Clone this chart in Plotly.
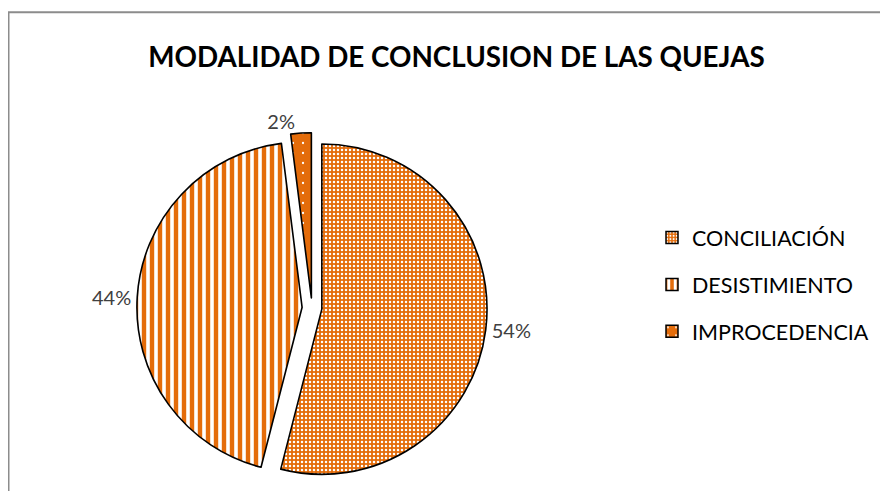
import plotly.graph_objects as go

labels = ["CONCILIACIÓN", "DESISTIMIENTO", "IMPROCEDENCIA"]
values = [54, 44, 2]
title_text = "MODALIDAD DE CONCLUSION DE LAS QUEJAS"

ORANGE = "#E46C0A"
W, H = 888, 491

shapes_pat = [".", "|", "."]
sizes_pat = [4, 8, 10]
solid_pat = [0.3, 0.45, 0.04]

HALF = 181  # half size of the pie domain (px)
CX = 304    # pie domain centre x (px)

fig = go.Figure()
fig.add_trace(go.Pie(
    labels=labels,
    values=values,
    sort=False,
    direction="clockwise",
    rotation=0,
    pull=[0.06, 0.06, 0.06],
    textinfo="percent",
    textposition="outside",
    texttemplate="%{percent:.0%}",
    textfont=dict(family="Lato", size=20, color="#404040"),
    hoverinfo="label+percent",
    marker=dict(
        colors=[ORANGE] * 3,
        line=dict(color="black", width=1.6),
        pattern=dict(
            shape=shapes_pat,
            size=sizes_pat,
            solidity=solid_pat,
            fgcolor="white",
            bgcolor=ORANGE,
            fillmode="replace",
        ),
    ),
    domain=dict(x=[(CX - HALF) / W, (CX + HALF) / W], y=[0, 2 * HALF / H]),
    showlegend=False,
))

for i, lab in enumerate(labels):
    fig.add_trace(go.Bar(
        x=[None], y=[None], name=lab, legendgroup=lab,
        marker=dict(
            color=ORANGE,
            line=dict(color="black", width=1.5),
            pattern=dict(shape=shapes_pat[i], size=sizes_pat[i],
                         solidity=solid_pat[i], fgcolor="white",
                         bgcolor=ORANGE, fillmode="replace"),
        ),
        hoverinfo="skip",
    ))

fig.update_layout(
    width=W, height=H,
    margin=dict(l=0, r=0, t=0, b=0),
    paper_bgcolor="white",
    plot_bgcolor="rgba(0,0,0,0)",
    xaxis=dict(visible=False),
    yaxis=dict(visible=False),
    title=dict(
        text="<b>" + title_text + "</b>",
        x=448.5 / W, xanchor="center",
        y=1 - 49 / H, yanchor="middle",
        font=dict(family="Lato", size=27.8, color="black"),
    ),
    legend=dict(
        x=644 / W, xanchor="left",
        y=1 - 216 / H, yanchor="top",
        font=dict(family="Lato", size=21.5, color="black"),
        bgcolor="rgba(0,0,0,0)",
        tracegroupgap=16,
    ),
    shapes=[
        dict(type="rect", xref="paper", yref="paper",
             x0=0.5 / W, y0=1 - 4.5 / H, x1=1.05, y1=-0.05,
             line=dict(color="#8C8C8C", width=2),
             fillcolor="rgba(0,0,0,0)", layer="above"),
    ],
)

fig.write_html("out.html")
